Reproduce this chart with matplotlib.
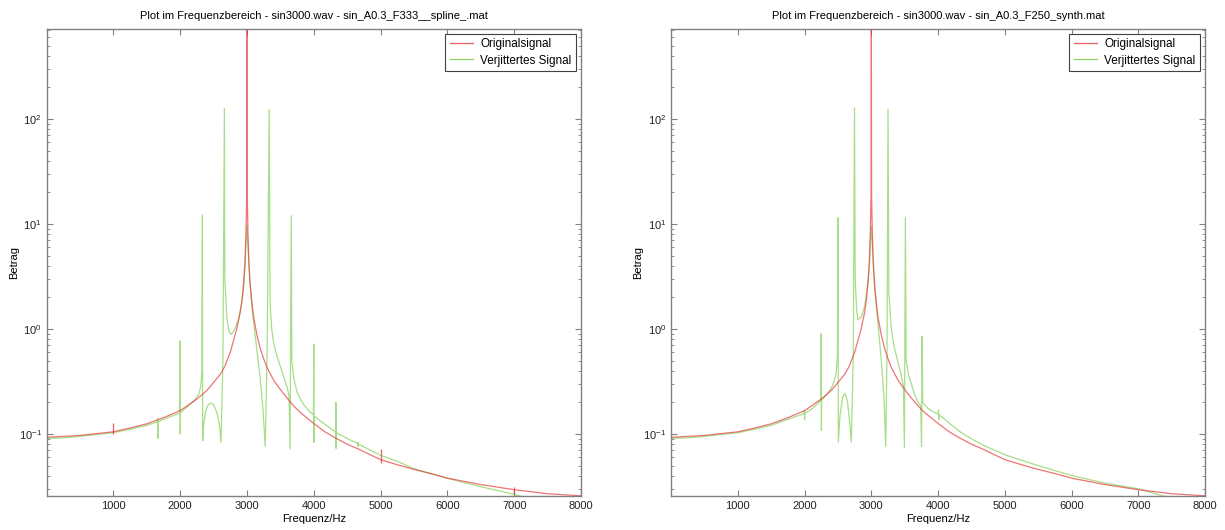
import numpy as np
import matplotlib
matplotlib.use("Agg")
import matplotlib.pyplot as plt
from matplotlib.ticker import LogLocator, NullFormatter

plt.rcParams['font.family'] = ['Liberation Sans', 'DejaVu Sans']

# Originalsignal (sin 3000 Hz) - Betrag über Frequenz
orig_freq = [0, 500, 1000, 1250, 1500, 1750, 2000, 2250, 2400, 2500, 2600, 2667, 2750,
             2800, 2850, 2900, 2930, 2950, 2970, 2985,
             2996, 2999, 3000, 3001, 3004, 3015, 3030, 3050, 3075, 3100, 3150, 3200,
             3250, 3300, 3400, 3500, 3600, 3700, 3800, 3900, 4000, 4167, 4333, 4500,
             4667, 4833, 5000, 5250, 5500, 5750, 6000, 6500, 7000, 7500, 8000]
orig_mag = [0.093, 0.097, 0.105, 0.114, 0.125, 0.143, 0.167, 0.215, 0.26, 0.31, 0.37, 0.44, 0.6,
            0.78, 1.02, 1.45, 2.0, 2.8, 4.4, 8.5,
            19, 280, 720, 280, 19, 8.0, 4.2, 2.6, 1.75, 1.3, 0.87, 0.65,
            0.52, 0.43, 0.325, 0.265, 0.22, 0.185, 0.16, 0.142, 0.126, 0.105, 0.091, 0.08,
            0.072, 0.064, 0.057, 0.051, 0.046, 0.042, 0.038, 0.033, 0.0295, 0.027, 0.0258]

# kleine Ausreißer im Originalsignal (nur linker Plot sichtbar)
orig_spike_freq = [1000, 5000, 7000]
orig_spike_top = [0.128, 0.072, 0.031]
orig_spike_bot = [0.101, 0.053, 0.027]

# Verjittertes Signal, F333 spline
jit333_freq = [0, 250, 500, 750, 1000, 1250, 1500, 1650,
               1666, 1667, 1668,
               1800, 1990, 1999, 2001, 2003,
               2100, 2200, 2280, 2310, 2325, 2333, 2337,
               2350, 2380, 2420, 2460, 2500, 2550, 2590, 2611,
               2640, 2662, 2668, 2700, 2730, 2760, 2800, 2840, 2880, 2920, 2950, 2970, 2985, 3000,
               3015, 3040, 3080, 3120, 3160, 3200, 3240, 3273,
               3300, 3333, 3345, 3370, 3400, 3450, 3500, 3550, 3600, 3630, 3645,
               3662, 3672, 3700, 3750, 3800, 3850, 3920, 3995, 4000, 4003, 4006,
               4100, 4170, 4245, 4328, 4331, 4334, 4337,
               4494, 4662, 4664, 4666, 4670, 4830,
               4993, 5250, 5491, 5750, 5990, 6489, 6937, 7500, 8000]
jit333_mag = [0.091, 0.092, 0.095, 0.099, 0.103, 0.111, 0.121, 0.13,
              0.141, 0.091, 0.131,
              0.142, 0.158, 0.77, 0.10, 0.16,
              0.18, 0.205, 0.24, 0.29, 0.4, 12.2, 0.086,
              0.12, 0.165, 0.19, 0.198, 0.19, 0.16, 0.12, 0.083,
              0.5, 126, 3.0, 1.25, 0.95, 0.89, 0.95, 1.08, 1.3, 1.75, 2.5, 3.8, 6.5, 9.5,
              6.0, 3.0, 1.5, 0.9, 0.55, 0.33, 0.17, 0.076,
              0.5, 124, 1.8, 1.0, 0.73, 0.55, 0.44, 0.35, 0.28, 0.23, 0.072,
              12.0, 0.5, 0.34, 0.25, 0.215, 0.19, 0.168, 0.152, 0.72, 0.083, 0.148,
              0.133, 0.123, 0.114, 0.104, 0.2, 0.073, 0.103,
              0.091, 0.081, 0.076, 0.083, 0.08, 0.071,
              0.063, 0.055, 0.047, 0.042, 0.038, 0.0316, 0.0272, 0.022, 0.019]

# Verjittertes Signal, F250 synth
jit250_freq = [0, 250, 500, 750, 1000, 1250, 1500, 1750, 1990,
               1998, 2000, 2003,
               2100, 2200, 2245, 2249, 2252, 2256,
               2350, 2420, 2470, 2492, 2500, 2506,
               2530, 2570, 2605, 2640, 2675, 2700,
               2730, 2748, 2758, 2780, 2800, 2850, 2900, 2950, 2970, 2985, 3000,
               3015, 3050, 3100, 3150, 3190, 3215, 3235, 3250, 3262,
               3300, 3340, 3400, 3440, 3480, 3495, 3510, 3522,
               3560, 3600, 3640, 3700, 3740, 3752, 3760, 3770,
               3850, 3950, 4003, 4006, 4008, 4012,
               4100, 4200, 4340, 4500, 4700, 5015, 5500, 6015, 6500, 7013, 7339, 8000]
jit250_mag = [0.091, 0.092, 0.095, 0.099, 0.103, 0.111, 0.121, 0.138, 0.156,
              0.169, 0.136, 0.157,
              0.172, 0.195, 0.21, 0.9, 0.108, 0.21,
              0.245, 0.29, 0.37, 0.55, 11.5, 0.084,
              0.15, 0.225, 0.244, 0.21, 0.13, 0.084,
              0.6, 128, 3.0, 1.5, 1.22, 1.3, 1.65, 2.8, 3.9, 6.5, 9.5,
              6.0, 2.4, 1.1, 0.5, 0.22, 0.076, 0.6, 124, 2.2,
              1.0, 0.68, 0.48, 0.38, 0.29, 0.074, 11.5, 0.5,
              0.36, 0.3, 0.245, 0.2, 0.185, 0.076, 0.85, 0.2,
              0.175, 0.16, 0.155, 0.17, 0.136, 0.153,
              0.138, 0.122, 0.104, 0.09, 0.077, 0.063, 0.05, 0.04, 0.034, 0.03, 0.026, 0.021]

titles = ['Plot im Frequenzbereich - sin3000.wav - sin_A0.3_F333__spline_.mat',
          'Plot im Frequenzbereich - sin3000.wav - sin_A0.3_F250_synth.mat']

RED = '#e63a3a'
GREEN = '#6cc83a'
AXCOL = '#808080'


def draw_panel(ax, jit_f, jit_m, title, with_spikes):
    ax.plot(jit_f, jit_m, color=GREEN, lw=0.9, alpha=0.6, label='Verjittertes Signal')
    ax.plot(orig_freq, orig_mag, color=RED, lw=0.9, alpha=0.7, label='Originalsignal')
    if with_spikes:
        ax.vlines(orig_spike_freq, orig_spike_bot, orig_spike_top, color=RED, lw=0.9, alpha=0.8)

    ax.set_yscale('log')
    ax.set_xlim(0, 8000)
    ax.set_ylim(0.0257, 720)
    ax.set_xticks(range(1000, 8001, 1000))
    ax.yaxis.set_minor_locator(LogLocator(base=10, subs=np.arange(2, 10)))
    ax.yaxis.set_minor_formatter(NullFormatter())
    ax.tick_params(which='both', direction='in', top=True, right=True,
                   color=AXCOL, labelsize=8, labelcolor='#222222')
    ax.tick_params(which='major', length=4)
    ax.tick_params(which='minor', length=2)
    for s in ax.spines.values():
        s.set_color(AXCOL)
        s.set_linewidth(1.0)

    ax.set_title(title, fontsize=8, pad=7)
    ax.set_xlabel('Frequenz/Hz', fontsize=8, labelpad=2)
    ax.set_ylabel('Betrag', fontsize=8, labelpad=0)

    h, l = ax.get_legend_handles_labels()
    leg = ax.legend(h[::-1], l[::-1], loc='upper right', fontsize=8.5, fancybox=False,
                    borderaxespad=0.4, handlelength=2.0, handletextpad=0.6, borderpad=0.4,
                    labelspacing=0.35, framealpha=1)
    leg.get_frame().set_edgecolor('#404040')
    leg.get_frame().set_linewidth(0.8)
    for lh in leg.get_lines():
        lh.set_alpha(0.8)


fig = plt.figure(figsize=(12.25, 5.3), dpi=100)
ax1 = fig.add_axes([0.038, 0.0642, 0.4363, 0.881])
ax2 = fig.add_axes([0.5478, 0.0642, 0.436, 0.881])

draw_panel(ax1, jit333_freq, jit333_mag, titles[0], True)
draw_panel(ax2, jit250_freq, jit250_mag, titles[1], False)

fig.savefig('out.png', dpi=100)
